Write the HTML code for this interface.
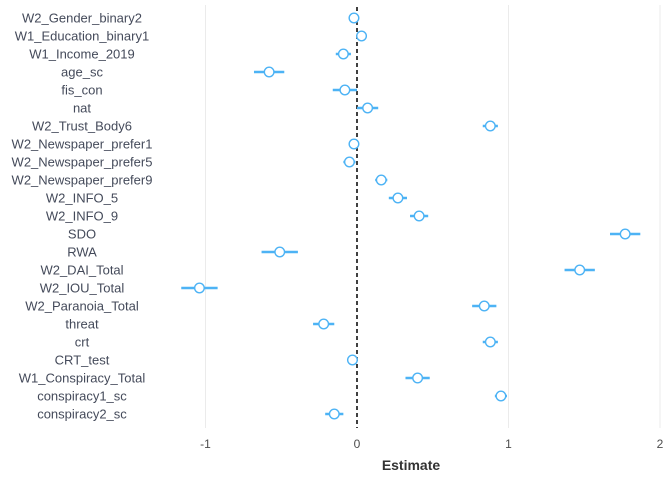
<!DOCTYPE html>
<html><head><meta charset="utf-8"><style>
body{margin:0;background:#fff;}
svg text{font-family:"Liberation Sans",sans-serif;}
</style></head><body>
<svg id="chart" width="672" height="480"></svg>
<script>
const terms=["W2_Gender_binary2","W1_Education_binary1","W1_Income_2019","age_sc","fis_con","nat","W2_Trust_Body6","W2_Newspaper_prefer1","W2_Newspaper_prefer5","W2_Newspaper_prefer9","W2_INFO_5","W2_INFO_9","SDO","RWA","W2_DAI_Total","W2_IOU_Total","W2_Paranoia_Total","threat","crt","CRT_test","W1_Conspiracy_Total","conspiracy1_sc","conspiracy2_sc"];
const estimates=[-0.02,0.03,-0.09,-0.58,-0.08,0.07,0.88,-0.02,-0.05,0.16,0.27,0.41,1.77,-0.51,1.47,-1.04,0.84,-0.22,0.88,-0.03,0.40,0.95,-0.15];
const ciHalf=[0.03,0.02,0.05,0.10,0.08,0.07,0.05,0.03,0.04,0.04,0.06,0.06,0.10,0.12,0.10,0.12,0.08,0.07,0.05,0.03,0.08,0.04,0.06];
const xTicks=[-1,0,1,2];
const xTickLabels=["-1","0","1","2"];
const NS="http://www.w3.org/2000/svg";
const svg=document.getElementById('chart');
const xS=v=>357+v*151.5;
const yS=i=>18+i*18;
function mk(t,a){const e=document.createElementNS(NS,t);for(const k in a)e.setAttribute(k,a[k]);svg.appendChild(e);return e;}
xTicks.forEach((t,i)=>{
  if(t!==0){const g=mk('line',{x1:xS(t),x2:xS(t),y1:5,y2:428,stroke:'#ebebeb','stroke-width':1});
  
  }
  const l=mk('text',{x:xS(t),y:448,'text-anchor':'middle','font-size':12,fill:'#4d4d4d'});
  l.textContent=xTickLabels[i];
  
  
});
const z=mk('line',{x1:xS(0),x2:xS(0),y1:7,y2:428,stroke:'#000','stroke-width':1.5,'stroke-dasharray':'4,3'});


terms.forEach((t,i)=>{
  const y=yS(i);
  const lab=mk('text',{x:82,y:y+4.5,'text-anchor':'middle','font-size':13,fill:'#444a5a'});
  lab.textContent=t;
  
  
  const ci=mk('line',{x1:xS(estimates[i]-ciHalf[i]),x2:xS(estimates[i]+ciHalf[i]),y1:y,y2:y,stroke:'#4db3f5','stroke-width':2.5});
  
  
  const p=mk('circle',{cx:xS(estimates[i]),cy:y,r:4.8,fill:'#fff',stroke:'#4db3f5','stroke-width':1.4});
  
  
});
const xt=mk('text',{x:411,y:470,'text-anchor':'middle','font-size':14,'font-weight':'bold',fill:'#333'});
xt.textContent='Estimate';


</script>
</body></html>
